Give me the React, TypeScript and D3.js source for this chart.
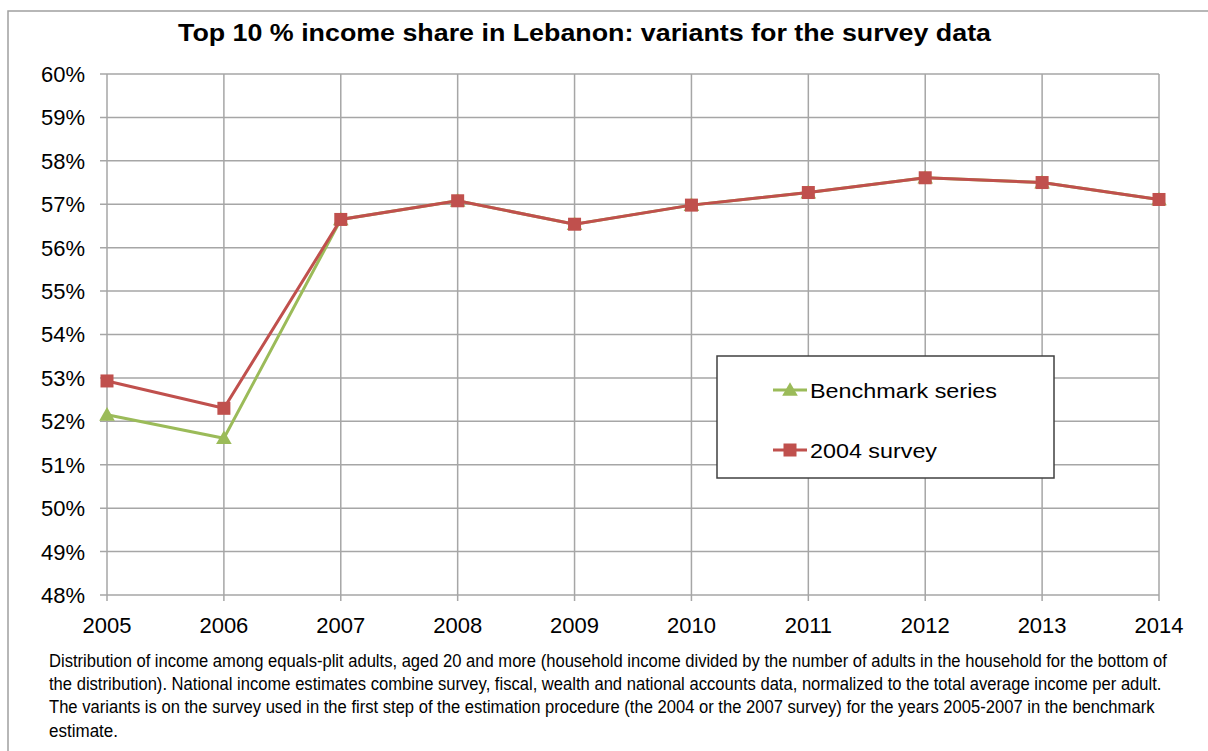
import React, { useLayoutEffect, useRef, useState } from "react";
import * as d3 from "d3";

const years = [2005, 2006, 2007, 2008, 2009, 2010, 2011, 2012, 2013, 2014];
const benchmark = [52.15, 51.61, 56.65, 57.08, 56.54, 56.98, 57.27, 57.61, 57.5, 57.11];
const survey2004 = [52.93, 52.3, 56.65, 57.08, 56.54, 56.98, 57.27, 57.61, 57.5, 57.11];
const yTicks = [48, 49, 50, 51, 52, 53, 54, 55, 56, 57, 58, 59, 60];
const title = "Top 10 % income share in Lebanon: variants for the survey data";
const seriesNames = ["Benchmark series", "2004 survey"];
const footnote = [
  "Distribution of income among equals-plit adults, aged 20 and more (household income divided by the number of adults in the household for the bottom of",
  "the distribution). National income estimates combine survey, fiscal, wealth and national accounts data, normalized to the total average income per adult.",
  "The variants is on the survey used in the first step of the estimation procedure (the 2004 or the 2007 survey) for the years 2005-2007 in the benchmark",
  "estimate.",
];

const W = 1208;
const H = 751;
const GREEN = "#9BBB59";
const RED = "#C0504D";
const GRID = "#a6a6a6";
const FONT = "'Liberation Sans', Arial, sans-serif";
const NARROW = "'Liberation Sans Narrow', 'Arial Narrow', 'Liberation Sans', sans-serif";

export default function App() {
  const x = d3.scaleLinear().domain([2005, 2014]).range([107, 1159]);
  const y = d3.scaleLinear().domain([48, 60]).range([595, 74]);
  const line = d3
    .line<number>()
    .x((_, i) => x(years[i]))
    .y((d) => y(d));

  const tri = (cx: number, cy: number, s: number) =>
    `M${cx},${cy - s * 0.6}L${cx + s * 0.6},${cy + s * 0.45}L${cx - s * 0.6},${cy + s * 0.45}Z`;

  const footWidths = [1118, 1112, 1105, 69];
  const legendWidths = [187, 127];

  const footRefs = useRef<(SVGTextElement | null)[]>([]);
  const [footScale, setFootScale] = useState<number[]>([0.88, 0.88, 0.88, 0.88]);

  useLayoutEffect(() => {
    const s = footRefs.current.map((el, i) => {
      if (!el) return 0.88;
      const w = el.getComputedTextLength();
      return w > 0 ? footWidths[i] / w : 0.88;
    });
    setFootScale(s);
  }, []);

  return (
    <svg
      width={W}
      height={H}
      style={{ position: "absolute", left: 0, top: 0, background: "#fff" }}
    >
      <rect x={8} y={11} width={W + 20} height={H + 20} fill="#fff" stroke="#a0a0a0" strokeWidth={1.5} />
      <text
        x={178}
        y={41}
        fontFamily={FONT}
        fontWeight="bold"
        fontSize={23}
        fill="#000"
        textLength={813}
        lengthAdjust="spacingAndGlyphs"
      >
        {title}
      </text>

      {/* horizontal grid */}
      {yTicks.map((t) => (
        <g key={"y" + t}>
          <line x1={100} x2={1159} y1={y(t)} y2={y(t)} stroke={GRID} strokeWidth={1.5} />
          <text
            x={85}
            y={y(t)}
            dy="0.36em"
            textAnchor="end"
            fontFamily={FONT}
            fontSize={22}
            fill="#000"
          >
            {t}%
          </text>
        </g>
      ))}
      {/* vertical grid */}
      {years.map((yr) => (
        <g key={"x" + yr}>
          <line x1={x(yr)} x2={x(yr)} y1={74} y2={601} stroke={GRID} strokeWidth={1.5} />
          <text x={x(yr)} y={633} textAnchor="middle" fontFamily={FONT} fontSize={22} fill="#000">
            {yr}
          </text>
        </g>
      ))}

      {/* benchmark series */}
      <path d={line(benchmark) || ""} fill="none" stroke={GREEN} strokeWidth={3} />
      {benchmark.map((v, i) => (
        <path key={"b" + i} d={tri(x(years[i]), y(v), 13)} fill={GREEN} />
      ))}

      {/* 2004 survey */}
      <path d={line(survey2004) || ""} fill="none" stroke={RED} strokeWidth={3} />
      {survey2004.map((v, i) => (
        <rect key={"s" + i} x={x(years[i]) - 6.5} y={y(v) - 6.5} width={13} height={13} fill={RED} />
      ))}

      {/* legend */}
      <rect x={717} y={356} width={337} height={122} fill="#fff" stroke="#404040" strokeWidth={1.5} />
      <line x1={773} x2={807} y1={390} y2={390} stroke={GREEN} strokeWidth={3} />
      <path d={tri(790, 390, 13)} fill={GREEN} />
      <text
        x={810}
        y={390}
        dy="0.36em"
        fontFamily={FONT}
        fontSize={21}
        fill="#000"
        textLength={legendWidths[0]}
        lengthAdjust="spacingAndGlyphs"
      >
        {seriesNames[0]}
      </text>
      <line x1={773} x2={807} y1={450} y2={450} stroke={RED} strokeWidth={3} />
      <rect x={783.5} y={443.5} width={13} height={13} fill={RED} />
      <text
        x={810}
        y={450}
        dy="0.36em"
        fontFamily={FONT}
        fontSize={21}
        fill="#000"
        textLength={legendWidths[1]}
        lengthAdjust="spacingAndGlyphs"
      >
        {seriesNames[1]}
      </text>

      {/* footnote */}
      {footnote.map((t, i) => (
        <text
          key={"f" + i}
          ref={(el) => {
            footRefs.current[i] = el;
          }}
          transform={`translate(49,${666.7 + i * 23.3}) scale(${footScale[i]},1)`}
          fontFamily={NARROW}
          fontSize={18.5}
          fill="#000"
        >
          {t}
        </text>
      ))}
    </svg>
  );
}
